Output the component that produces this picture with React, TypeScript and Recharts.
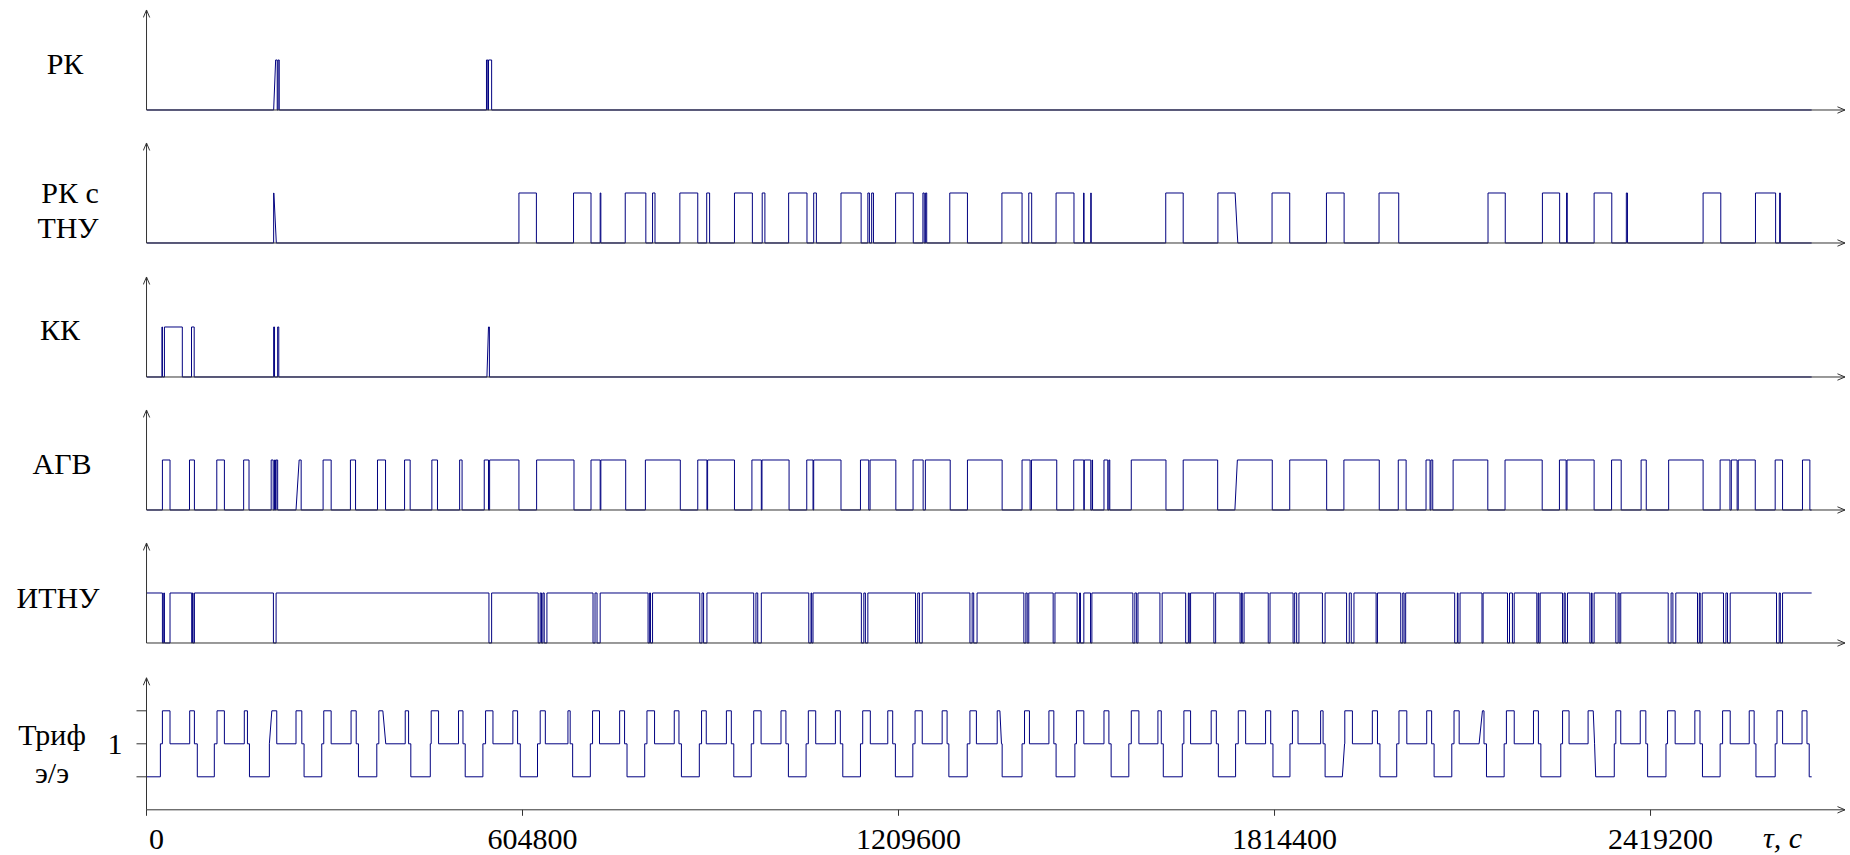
import React from "react";
import { Line, LineChart, XAxis, YAxis } from "recharts";

const SERIF = '"Liberation Serif", "Times New Roman", serif';
const INK = "#000080";
const AXIS = "#333";

const HOUR = 3600;
const END_HOURS = 744;
const X_MAX = 2732000;
const X_TICKS = [0, 604800, 1209600, 1814400, 2419200];

const PANEL_LABELS = [["РК"], ["РК с", "ТНУ"], ["КК"], ["АГВ"], ["ИТНУ"], ["Триф", "э/э"]];
const TARIF_TICKS = [0.5, 1, 1.5];

// on-intervals in hours: [on, off] or [riseFrom, riseTo, fallFrom, fallTo]
type Span = number[];

const rk: Span[] = [[56.8, 57.7, 58.4, 58.4], [58.8, 59.3], [151.9, 152.5], [152.8, 154.2]];

const rkTnu: Span[] = [
  [56.8, 56.8, 56.9, 58.0],
  [166.4, 174.2], [190.8, 198.6], [202.7, 203.0],
  [213.9, 223.1], [226.1, 227.2],
  [238.3, 246.3], [250.3, 251.6],
  [262.7, 270.7], [275.1, 276.3],
  [286.9, 295.1], [298.1, 299.3],
  [310.3, 319.3], [322.3, 323.0], [324.0, 324.8],
  [334.7, 342.6], [346.9, 347.5], [348.1, 348.6],
  [358.9, 366.8],
  [382.2, 391.2], [394.2, 395.5],
  [406.4, 414.4], [418.7, 418.9], [421.9, 422.1],
  [455.4, 463.2],
  [478.7, 478.7, 486.4, 487.6],
  [502.9, 510.8], [527.2, 535.1], [550.7, 559.5],
  [599.4, 607.1], [623.7, 631.4], [634.5, 634.8],
  [646.8, 654.7], [661.2, 661.7],
  [695.5, 703.4], [718.9, 727.9], [729.7, 730.0],
];

const kk: Span[] = [[6.9, 7.1], [8.0, 16.0], [20.1, 21.3], [56.8, 57.2], [58.6, 59.1], [152.1, 152.8, 153.2, 153.2]];

const agv: Span[] = [
  [7.1, 10.5], [19.2, 21.4], [31.4, 34.8], [43.4, 45.8], [55.7, 56.6], [57.2, 57.6], [57.9, 58.6],
  [66.8, 68.2, 69.1, 69.1], [78.9, 82.5], [91.1, 93.4], [103.2, 106.8], [115.3, 117.8], [127.5, 130.0], [139.9, 141.0],
  [150.9, 152.8], [153.3, 166.4], [174.3, 191.0], [198.6, 202.7], [203.0, 214.1], [222.9, 238.5],
  [246.3, 250.4], [250.7, 262.7], [270.5, 274.7], [275.0, 287.1], [295.0, 297.8], [298.1, 310.3],
  [319.0, 322.7], [323.3, 334.8], [342.5, 347.0], [348.0, 359.1], [366.8, 382.3], [391.2, 394.8],
  [395.4, 406.7], [414.3, 418.8], [419.0, 421.9], [422.5, 422.7], [427.8, 429.5], [430.0, 430.4],
  [440.0, 455.5], [463.2, 478.6], [486.3, 487.4, 503.0, 503.0], [510.8, 527.3], [535.0, 550.8],
  [559.3, 562.8], [571.7, 573.5], [573.9, 574.7], [583.8, 599.3], [607.0, 623.6], [631.3, 634.3],
  [634.7, 646.8], [654.6, 658.9], [667.8, 670.1], [680.1, 695.5], [703.1, 707.5], [708.1, 710.7],
  [711.2, 718.8], [727.7, 731.0], [739.9, 743.2],
];

// ИТНУ is on most of the time: these are the drops to zero
const itnuDips: Span[] = [
  [7.1, 7.7], [8.0, 10.5], [20.2, 20.5], [20.8, 21.4], [56.7, 57.9],
  [153.0, 154.2], [175.0, 175.9], [176.5, 177.1], [177.7, 178.9],
  [199.5, 200.4], [201.3, 202.7], [224.1, 224.8], [225.2, 226.1],
  [247.2, 248.2], [248.9, 250.4], [271.3, 272.3], [273.1, 274.7],
  [295.9, 296.9], [297.2, 297.8], [319.4, 320.5], [321.2, 322.3],
  [343.6, 344.6], [345.4, 346.6], [367.9, 368.9], [369.6, 371.1],
  [392.0, 392.9], [393.5, 394.2], [405.1, 405.9], [415.8, 416.9], [417.3, 418.8],
  [421.8, 422.4], [440.7, 441.6], [442.4, 443.0], [452.8, 453.8],
  [464.3, 465.5], [465.9, 466.5], [476.9, 477.7], [488.6, 489.2], [489.6, 490.4],
  [501.2, 502.0], [512.3, 513.0], [513.9, 514.9], [525.4, 526.6],
  [536.2, 537.4], [538.3, 539.5], [549.4, 550.0], [560.4, 561.3], [561.9, 562.6],
  [584.5, 585.7], [586.0, 586.9], [596.7, 597.2], [608.1, 609.0], [610.3, 611.1],
  [621.2, 621.8], [622.1, 622.7], [632.7, 633.4], [633.9, 634.9],
  [644.9, 645.6], [645.9, 646.8], [656.5, 657.5], [658.0, 658.7],
  [679.9, 681.2], [682.0, 683.3], [693.0, 693.8], [694.2, 695.1],
  [704.6, 705.7], [706.4, 707.6], [728.3, 729.5], [730.0, 731.0],
];

// tariff zone changes per day, hours of the day: mid, high, mid, high, mid, low
type Edge = number | [number, number];
const TARIF_STEPS = [1, 1.5, 1, 1.5, 1, 0.5];
const tarifDays: Edge[][] = [
  [6.2, 7.1, 10.5, 19.3, 21.4, 22.7],
  [6.3, 7.5, 10.8, 19.7, 21.1, 22.0],
  [6.9, [6.9, 8.0], 10.2, 18.8, 21.4, 22.4],
  [6.3, 7.2, 10.5, 19.4, 21.7, 22.7],
  [6.9, 7.8, [9.6, 10.9], 19.6, 21.1, 22.1],
  [6.8, 7.2, 10.5, 19.4, 21.4, 22.4],
  [6.3, 7.5, 10.8, 19.7, 21.8, 23.0],
  [6.7, 7.9, 10.2, 20.3, 21.3, 22.4],
  [6.3, 7.3, 10.4, 19.4, 21.6, 22.7],
  [6.6, 7.6, 11.0, 19.8, 21.9, 23.0],
  [7.0, 8.0, 10.1, 19.1, 21.3, 22.4],
  [6.2, 7.3, 10.6, 19.5, 21.7, 22.8],
  [6.7, 7.7, 11.0, 19.8, 22.0, 23.1],
  [7.0, 8.0, 11.4, 19.2, 21.4, 22.6],
  [6.4, 7.4, 10.6, 19.5, 21.7, 22.5],
  [6.7, 7.9, 10.8, 20.1, [21.3, 22.0], 22.3],
  [7.2, 8.3, 10.5, 19.2, 21.4, 22.4],
  [6.8, 7.5, 10.8, 19.8, 22.0, 23.0],
  [6.9, 8.0, 11.4, 19.9, 21.4, 22.3],
  [6.8, 7.5, 10.5, 19.7, 22.0, 22.9],
  [6.6, 7.8, 11.1, 20.0, 22.3, 23.3],
  [6.9, 8.0, 10.5, 20.6, 21.7, 22.6],
  [[6.3, 7.3], 7.4, 10.8, 19.7, 22.0, 23.1],
  [6.6, 7.6, 11.1, 20.0, 22.2, 23.3],
  [7.2, 8.2, 10.5, [19.4, 20.9], 21.6, 22.7],
  [6.6, 7.6, 11.1, 19.7, 21.9, 23.0],
  [7.9, 8.7, 11.6, 20.1, [22.4, 23.0], [23.0, 23.5]],
  [7.8, 8.5, 10.7, 19.4, 21.9, 22.7],
  [6.9, 7.6, 11.0, 19.8, 22.1, 23.2],
  [7.1, 8.2, 11.6, 20.1, 22.3, 23.1],
  [7.7, 8.5, 11.0, 19.7, 21.9, 22.9],
];

type Pt = { t: number; v: number };

function pulses(spans: Span[], base: number, peak: number): Pt[] {
  const pts: Pt[] = [{ t: 0, v: base }];
  spans.forEach((s) => {
    const [a0, a1, b0, b1] = s.length === 4 ? s : [s[0], s[0], s[1], s[1]];
    pts.push({ t: a0 * HOUR, v: base }, { t: a1 * HOUR, v: peak }, { t: b0 * HOUR, v: peak }, { t: b1 * HOUR, v: base });
  });
  pts.push({ t: END_HOURS * HOUR, v: base });
  return pts;
}

function tarif(): Pt[] {
  let level = 0.5;
  const pts: Pt[] = [{ t: 0, v: level }];
  tarifDays.forEach((row, day) => {
    row.forEach((e, i) => {
      const [from, to] = typeof e === "number" ? [e, e] : e;
      const next = TARIF_STEPS[i];
      pts.push({ t: (day * 24 + from) * HOUR, v: level }, { t: (day * 24 + to) * HOUR, v: next });
      level = next;
    });
  });
  pts.push({ t: END_HOURS * HOUR, v: level });
  return pts;
}

const SERIES = [
  pulses(rk, 0, 1),
  pulses(rkTnu, 0, 1),
  pulses(kk, 0, 1),
  pulses(agv, 0, 1),
  pulses(itnuDips, 1, 0),
  tarif(),
];

// chart boxes, px
const LAYOUT = [
  { top: 0, height: 133.3, marginTop: 10, plotHeight: 100 },
  { top: 133.3, height: 133.3, marginTop: 10, plotHeight: 100 },
  { top: 266.6, height: 133.3, marginTop: 10, plotHeight: 100 },
  { top: 399.9, height: 133.3, marginTop: 10, plotHeight: 100 },
  { top: 533.2, height: 133.3, marginTop: 10, plotHeight: 100 },
  { top: 666.5, height: 188.5, marginTop: 10.8, plotHeight: 132 },
];

const LABEL_POS = [
  [[65, 74]],
  [[70, 203], [68, 238]],
  [[60, 340]],
  [[62, 474]],
  [[58, 608]],
  [[52, 745], [52, 783]],
];

function Panel({ index }: { index: number }) {
  const { top, height, marginTop, plotHeight } = LAYOUT[index];
  const last = index === LAYOUT.length - 1;
  const textStyle = { fontSize: 30, fontFamily: SERIF, fill: "#000" };
  return (
    <div style={{ position: "absolute", left: 0, top }}>
      <LineChart width={1850} height={height} margin={{ top: marginTop, right: 5, bottom: 0, left: 0 }}>
        <XAxis
          dataKey="t"
          type="number"
          domain={[0, X_MAX]}
          allowDataOverflow
          height={height - marginTop - plotHeight}
          ticks={last ? X_TICKS : []}
          interval={0}
          axisLine={{ stroke: AXIS, markerEnd: "url(#arrow)" }}
          tickLine={last ? { stroke: AXIS } : false}
          tickSize={6}
          tickMargin={12}
          tick={last ? { ...textStyle, dx: 10 } : false}
        />
        <YAxis
          type="number"
          domain={[0, 2]}
          width={146.5}
          ticks={last ? TARIF_TICKS : []}
          interval={0}
          tickFormatter={(v: number) => (v === 1 ? "1" : "")}
          axisLine={{ stroke: AXIS, markerStart: "url(#arrow)" }}
          tickLine={last ? { stroke: AXIS } : false}
          tickSize={10}
          tickMargin={14}
          tick={last ? textStyle : false}
        />
        <Line
          data={SERIES[index]}
          dataKey="v"
          type="linear"
          stroke={INK}
          strokeWidth={1}
          dot={false}
          activeDot={false}
          isAnimationActive={false}
        />
      </LineChart>
    </div>
  );
}

export default function App() {
  return (
    <div style={{ position: "absolute", left: 0, top: 0, width: 1850, height: 855, background: "#fff" }}>
      {LAYOUT.map((_, i) => (
        <Panel key={i} index={i} />
      ))}
      <svg width={1850} height={855} style={{ position: "absolute", left: 0, top: 0, pointerEvents: "none" }}>
        <defs>
          <marker
            id="arrow"
            markerUnits="userSpaceOnUse"
            markerWidth={10}
            markerHeight={10}
            refX={8.5}
            refY={4}
            orient="auto-start-reverse"
          >
            <path d="M1,0.8 L8.5,4 L1,7.2" fill="none" stroke={AXIS} strokeWidth={1} />
          </marker>
        </defs>
        {PANEL_LABELS.map((lines, i) =>
          lines.map((text, j) => (
            <text
              key={`${i}-${j}`}
              x={LABEL_POS[i][j][0]}
              y={LABEL_POS[i][j][1]}
              textAnchor="middle"
              fontSize={30}
              fontFamily={SERIF}
              fill="#000"
            >
              {text}
            </text>
          ))
        )}
        <text x={1763} y={848} fontSize={30} fontFamily={SERIF} fontStyle="italic" fill="#000">
          τ, c
        </text>
      </svg>
    </div>
  );
}
